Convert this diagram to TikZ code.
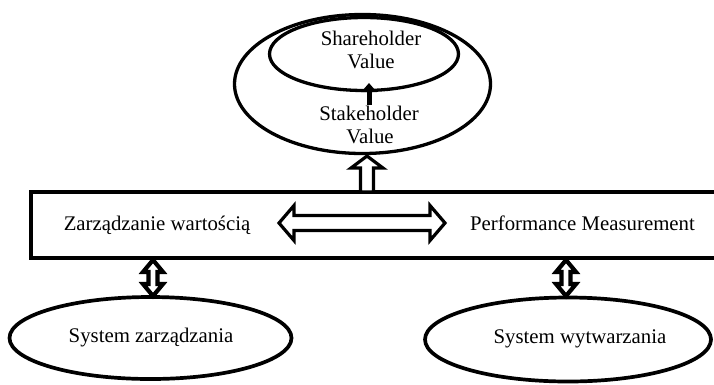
\documentclass[tikz,border=0pt]{standalone}
\usepackage{fontspec}
\setmainfont{Liberation Serif}
\usetikzlibrary{shapes.geometric,calc,arrows.meta}
\begin{document}
\begin{tikzpicture}[x=1pt,y=-1pt,
  txt/.style={font=\fontsize{20.8}{24}\selectfont, anchor=base, inner sep=0pt},
  oval/.style={ellipse, draw, inner sep=0pt},
  blockarrow/.style={draw, fill=white, line join=miter},
]
\useasboundingbox (0,0) rectangle (714,384);
\clip (0,0) rectangle (714,384);

% value ellipses
\node (outer) [oval, line width=3.3pt, minimum width=256pt, minimum height=139pt] at (362.5,84) {};
\node (inner) [oval, line width=3.3pt, minimum width=189pt, minimum height=73pt] at (364,54) {};
\node (sh1) [txt] at (371,45) {Shareholder};
\node (sh2) [txt] at (371,68) {Value};
\node (st1) [txt] at (369,120) {Stakeholder};
\node (st2) [txt] at (370,143) {Value};

% small solid arrow between the two values
\coordinate (sa-b) at (369,105);
\coordinate (sa-t) at (369,83);
\draw[line width=5pt, -{Triangle[width=15pt,length=9pt]}] (sa-b) -- (sa-t);

% main band
\node (box) [draw, line width=3.5pt, minimum width=699pt, minimum height=66pt, inner sep=0pt] at (380.5,225) {};
\node (zw) [txt] at (157,230) {Zarządzanie wartością};
\node (pm) [txt] at (582.5,230) {Performance Measurement};

% hollow arrow up into the value ellipse
\coordinate (up-t) at (367,156);
\coordinate (up-b) at (367,192);
\draw[blockarrow, line width=3.2pt] (up-t) -- ++(16,12) -- ++(-9.5,0)
  -- ($(up-b)+(6.5,0)$) -- ($(up-b)+(-6.5,0)$) -- ($(up-t)+(-6.5,12)$)
  -- ++(-9.5,0) -- cycle;

% hollow double arrow inside the band
\coordinate (hl) at (279,223);
\coordinate (hr) at (445,223);
\draw[blockarrow, line width=3.2pt] (hl) -- ++(15,-17.5) -- ++(0,10)
  -- ($(hr)+(-15,-7.5)$) -- ++(0,-10) -- (hr) -- ++(-15,17.5) -- ++(0,-10)
  -- ($(hl)+(15,7.5)$) -- ++(0,10) -- cycle;

% system ellipses
\node (sz) [oval, line width=3.7pt, minimum width=282pt, minimum height=82pt] at (150.5,338) {};
\node (sw) [oval, line width=3.7pt, minimum width=286pt, minimum height=84pt] at (568,339.5) {};
\node (szt) [txt] at (151,342) {System zarządzania};
\node (swt) [txt] at (580,343) {System wytwarzania};

% vertical double arrows between band and systems
\newcommand\vdblarrow[2]{%
  \draw[blockarrow, line width=4.2pt] (#1) -- ++(-10,12) -- ++(5.5,0)
    -- ($(#2)+(-4.5,-12)$) -- ++(-5.5,0) -- (#2) -- ++(10,-12) -- ++(-5.5,0)
    -- ($(#1)+(4.5,12)$) -- ++(5.5,0) -- cycle;}
\coordinate (la-t) at (153,260);
\coordinate (la-b) at (153,296);
\coordinate (ra-t) at (566,260);
\coordinate (ra-b) at (566,296);
\vdblarrow{la-t}{la-b}
\vdblarrow{ra-t}{ra-b}
\end{tikzpicture}
\end{document}
